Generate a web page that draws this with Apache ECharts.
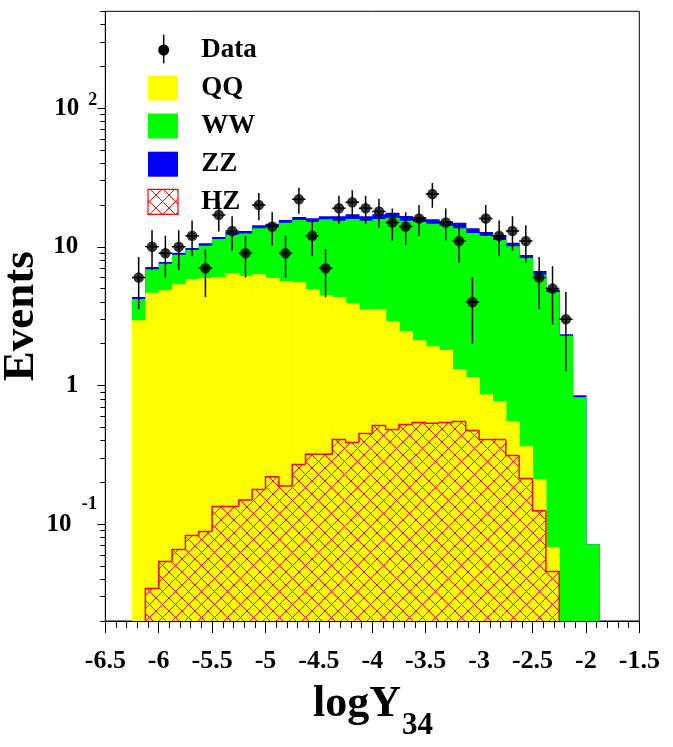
<!DOCTYPE html>
<html>
<head>
<meta charset="utf-8">
<script src="https://cdn.jsdelivr.net/npm/echarts@6/dist/echarts.min.js"></script>
<style>
html,body{margin:0;padding:0;background:#fff;}
#chart{width:673px;height:747px;}
</style>
</head>
<body>
<div id="chart"></div>
<script>
// ---- data ----
const binEdges = [-6.25,-6.125,-6,-5.875,-5.75,-5.625,-5.5,-5.375,-5.25,-5.125,-5,-4.875,-4.75,-4.625,-4.5,-4.375,-4.25,-4.125,-4,-3.875,-3.75,-3.625,-3.5,-3.375,-3.25,-3.125,-3,-2.875,-2.75,-2.625,-2.5,-2.375,-2.25,-2.125,-2,-1.875];
const dataEvents = [6,10,9,10,12,7,17,13,9,20,14,9,22,12,7,19,21,19,18,15,14,16,24,15,11,4,16,12,13,11,6,5,3,0,0];
const qqValues = [2.96,4.66,4.87,5.38,5.85,5.95,6.05,6.46,6.15,6.35,5.95,5.68,5.56,4.95,4.48,4.34,3.92,3.55,3.55,2.91,2.47,2.12,1.92,1.80,1.31,1.15,0.866,0.770,0.552,0.365,0.211,0.068,0,0,0];
const wwValues = [1.24,2.24,2.67,3.37,3.62,4.25,5.35,5.74,6.35,7.25,8.05,9.22,10.04,10.15,11.32,11.06,11.98,11.85,12.35,13.29,12.93,12.98,12.78,12.40,12.29,11.45,11.13,10.43,9.55,7.93,6.11,4.66,2.28,0.823,0.0716];
const zzValues = [0.14,0.24,0.22,0.30,0.32,0.40,0.35,0.60,0.50,0.70,0.70,0.70,0.80,1.00,0.80,1.20,1.30,1.20,1.30,1.40,1.30,1.30,1.10,1.10,1.30,1.00,0.80,0.90,0.60,0.42,0.36,0.20,0.06,0.028,0];
const hzValues = [0,0.0343,0.0537,0.0656,0.0828,0.0884,0.134,0.134,0.149,0.178,0.220,0.188,0.269,0.319,0.319,0.408,0.388,0.450,0.514,0.481,0.524,0.541,0.535,0.541,0.550,0.474,0.408,0.408,0.313,0.213,0.125,0.0455,0,0,0];
const xTicks = [-6.5,-6,-5.5,-5,-4.5,-4,-3.5,-3,-2.5,-2,-1.5];
const yMajorTicks = [0.1,1,10,100];
const yMinorTicks = [0.02,0.03,0.04,0.05,0.06,0.07,0.08,0.09,0.2,0.3,0.4,0.5,0.6,0.7,0.8,0.9,2,3,4,5,6,7,8,9,20,30,40,50,60,70,80,90,200,300,400,500];
const legendItems = ['Data','QQ','WW','ZZ','HZ'];

// ---- styling ----
const FONT = 'Liberation Serif';
const C_QQ = '#ffff00', C_WW = '#00ff00', C_ZZ = '#0000ff', C_HZ = '#ff0000';

function makeHatch(){
  const s = 13;
  const c = document.createElement('canvas');
  c.width = s; c.height = s;
  const g = c.getContext('2d');
  g.strokeStyle = C_HZ; g.lineWidth = 1;
  g.beginPath();
  for (const o of [-s, 0, s]) {
    g.moveTo(o, 0); g.lineTo(o + s, s);
    g.moveTo(o + s, 0); g.lineTo(o, s);
  }
  g.stroke();
  return c;
}
const hatch = {image: makeHatch(), repeat: 'repeat'};

// ---- build series data ----
const nb = binEdges.length - 1;
const totalData = [], greenData = [], yellowData = [], hzData = [], dataPts = [], errData = [];
for (let i = 0; i < nb; i++) {
  const lo = binEdges[i], hi = binEdges[i+1];
  yellowData.push([lo, hi, qqValues[i]]);
  greenData.push([lo, hi, qqValues[i] + wwValues[i]]);
  totalData.push([lo, hi, qqValues[i] + wwValues[i] + zzValues[i]]);
  hzData.push([lo, hi, hzValues[i], i > 0 ? hzValues[i-1] : 0, i < nb-1 ? hzValues[i+1] : 0]);
  if (dataEvents[i] > 0) {
    dataPts.push([(lo + hi) / 2, dataEvents[i]]);
    errData.push([lo, hi, dataEvents[i]]);
  }
}

function histRender(color){
  return function(params, api){
    const lo = api.value(0), hi = api.value(1), v = api.value(2);
    if (!(v > 0)) return;
    const p0 = api.coord([lo, v]), p1 = api.coord([hi, v]);
    const yb = params.coordSys.y + params.coordSys.height;
    return {type:'rect', shape:{x:p0[0], y:p0[1], width:p1[0]-p0[0]+0.6, height: yb - p0[1]},
            style:{fill: color}};
  };
}

function hzRender(params, api){
  const lo = api.value(0), hi = api.value(1), v = api.value(2), prev = api.value(3), next = api.value(4);
  if (!(v > 0)) return;
  const yb = params.coordSys.y + params.coordSys.height;
  const p0 = api.coord([lo, v]), p1 = api.coord([hi, v]);
  const yPrev = prev > 0 ? api.coord([lo, prev])[1] : yb;
  const pts = [[p0[0], yPrev], [p0[0], p0[1]], [p1[0], p1[1]]];
  if (!(next > 0)) pts.push([p1[0], yb]);
  return {type:'group', children:[
    {type:'rect', shape:{x:p0[0], y:p0[1], width:p1[0]-p0[0], height:yb-p0[1]}, style:{fill: hatch}},
    {type:'polyline', shape:{points: pts}, style:{stroke: C_HZ, lineWidth: 1.5, fill: null}}
  ]};
}

function errRender(params, api){
  const lo = api.value(0), hi = api.value(1), n = api.value(2);
  const x = (lo + hi) / 2, e = Math.sqrt(n);
  const t = api.coord([x, n + e]), b = api.coord([x, n - e]);
  const l = api.coord([lo, n]), r = api.coord([hi, n]);
  return {type:'group', children:[
    {type:'line', shape:{x1:t[0], y1:t[1], x2:b[0], y2:b[1]}, style:{stroke:'#000', lineWidth:1.5}},
    {type:'line', shape:{x1:l[0], y1:l[1], x2:r[0], y2:r[1]}, style:{stroke:'#000', lineWidth:1.5}}
  ]};
}

const chart = echarts.init(document.getElementById('chart'), null, {renderer:'canvas'});

const labelBase = {fontFamily: FONT, fontWeight: 'bold', color: '#000'};
const yRich = {
  b2: Object.assign({fontSize: 25, lineHeight: 34, verticalAlign: 'middle'}, labelBase),
  b1: Object.assign({fontSize: 25, lineHeight: 60, verticalAlign: 'middle'}, labelBase),
  bp: Object.assign({fontSize: 25, lineHeight: 25, verticalAlign: 'middle', padding:[0,19,0,0]}, labelBase),
  s2: Object.assign({fontSize: 18, lineHeight: 18, verticalAlign: 'top', padding:[0,0,0,9]}, labelBase),
  s1: Object.assign({fontSize: 19, lineHeight: 19, verticalAlign: 'top', padding:[0,0,0,10]}, labelBase)
};
function yFmt(v){
  const p = Math.round(Math.log10(v));
  if (p === 0) return '{bp|1}';
  if (p === 1) return '{bp|10}';
  if (p < 0) return '{b1|10}{s1|' + p + '}';
  return '{b2|10}{s2|' + p + '}';
}

const legendY = [50.3, 88, 126, 164.2, 201.8];
const legendBoxes = [null, C_QQ, C_WW, C_ZZ, hatch];
const graphics = [];
// Data legend marker
graphics.push({type:'line', shape:{x1:163.7, y1:34.7, x2:163.7, y2:63.3}, style:{stroke:'#000', lineWidth:1.5}});
graphics.push({type:'circle', shape:{cx:163.7, cy:50, r:5.5}, style:{fill:'#000'}});
for (let i = 1; i < legendItems.length; i++) {
  const isHz = legendItems[i] === 'HZ';
  graphics.push({type:'rect', shape:{x:148, y:legendY[i]-12.5, width:30, height:25},
    style:{fill: legendBoxes[i], stroke: isHz ? C_HZ : null, lineWidth: isHz ? 1.2 : 0}});
}
for (let i = 0; i < legendItems.length; i++) {
  graphics.push({type:'text', x:201.3, y:legendY[i], style:{text: legendItems[i], fontFamily: FONT, fontWeight:'bold',
    fontSize: 27, fill:'#000', align:'left', verticalAlign:'middle'}});
}
// x axis title with subscript
graphics.push({type:'text', x:313, y:705, style:{text:'logY', fontFamily: FONT, fontWeight:'bold', fontSize:44, fill:'#000', align:'left', verticalAlign:'middle'}});
graphics.push({type:'text', x:402, y:725.5, style:{text:'34', fontFamily: FONT, fontWeight:'bold', fontSize:31, fill:'#000', align:'left', verticalAlign:'middle'}});

const option = {
  backgroundColor: '#fff',
  animation: false,
  grid: {left: 105.3, right: 33.7, top: 11.3, bottom: 126, containLabel: false, outerBoundsMode: 'none',
         show: true, borderColor: '#000', borderWidth: 1, backgroundColor: 'transparent'},
  xAxis: {
    type: 'value', min: xTicks[0], max: xTicks[xTicks.length-1], interval: 0.5, z: 10,
    axisLine: {show: true, onZero: false, lineStyle: {color: '#000', width: 1}},
    axisTick: {show: true, inside: false, length: 12, lineStyle: {color: '#000', width: 1}},
    minorTick: {show: true, splitNumber: 5, length: 7, lineStyle: {color: '#000', width: 1}},
    axisLabel: {show: true, margin: 27, fontFamily: FONT, fontWeight: 'bold', fontSize: 26, color: '#000',
      showMinLabel: true, showMaxLabel: true, hideOverlap: false, formatter: v => String(v)},
    splitLine: {show: false}, minorSplitLine: {show: false}
  },
  yAxis: [{
    type: 'log', logBase: 10, min: 0.02, max: 500, z: 10,
    name: 'Events', nameLocation: 'middle', nameGap: 61, nameRotate: 90, nameMoveOverlap: false,
    nameTextStyle: {fontFamily: FONT, fontWeight: 'bold', fontSize: 45, color: '#000'},
    axisLine: {show: true, lineStyle: {color: '#000', width: 1}},
    axisTick: {show: true, inside: false, length: 8, customValues: yMajorTicks, lineStyle: {color: '#000', width: 1}},
    axisLabel: {show: true, margin: 8, customValues: yMajorTicks, formatter: yFmt, rich: yRich, hideOverlap: false},
    splitLine: {show: false}
  }, {
    type: 'log', logBase: 10, min: 0.02, max: 500, position: 'left', offset: 0, z: 10,
    axisLine: {show: false},
    axisTick: {show: true, inside: false, length: 5, customValues: yMinorTicks, lineStyle: {color: '#000', width: 1}},
    axisLabel: {show: false},
    splitLine: {show: false}
  }],
  graphic: graphics,
  series: [
    {name: 'ZZ', type: 'custom', renderItem: histRender(C_ZZ), data: totalData, encode: {x: [0,1], y: 2}, z: 2, clip: true},
    {name: 'WW', type: 'custom', renderItem: histRender(C_WW), data: greenData, encode: {x: [0,1], y: 2}, z: 3, clip: true},
    {name: 'QQ', type: 'custom', renderItem: histRender(C_QQ), data: yellowData, encode: {x: [0,1], y: 2}, z: 4, clip: true},
    {name: 'HZ', type: 'custom', renderItem: hzRender, data: hzData, encode: {x: [0,1], y: 2}, z: 5, clip: true},
    {name: 'Data errors', type: 'custom', renderItem: errRender, data: errData, encode: {x: [0,1], y: 2}, z: 6, clip: true},
    {name: 'Data', type: 'scatter', data: dataPts, symbol: 'circle', symbolSize: 10.5, itemStyle: {color: '#000'}, z: 7}
  ]
};
chart.setOption(option);
</script>
</body>
</html>
